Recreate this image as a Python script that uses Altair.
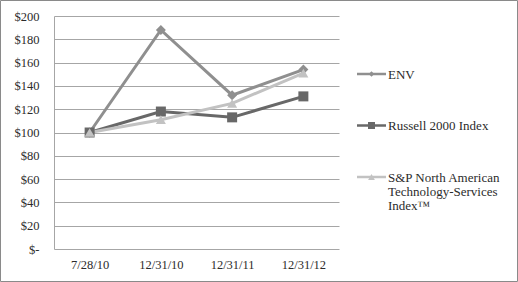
import altair as alt
import pandas as pd

dates = ["7/28/10", "12/31/10", "12/31/11", "12/31/12"]
series_names = ["ENV", "Russell 2000 Index", "S&P North American Technology-Services Index\u2122"]
legend_labels = ["ENV", "Russell 2000 Index", "S&P North American|Technology-Services|Index\u2122"]
env = [100, 188, 132, 154]
russell = [100, 118, 113, 131]
sp = [100, 111, 125, 151]
y_ticks = [0, 20, 40, 60, 80, 100, 120, 140, 160, 180, 200]

colors = ["#8f8f8f", "#686868", "#c2c2c2"]
shapes = ["diamond", "square", "triangle-up"]

rows = []
for name, vals in zip(series_names, [env, russell, sp]):
    for d, v in zip(dates, vals):
        rows.append({"date": d, "value": v, "series": name})
df = pd.DataFrame(rows)
leg_df = pd.DataFrame({"series": series_names, "label": legend_labels})

font = "'Liberation Serif', 'Times New Roman', serif"

x_enc = alt.X("date:N", sort=dates, scale=alt.Scale(domain=dates),
              axis=alt.Axis(title=None, labelAngle=0, ticks=False, domain=False,
                            labelFont=font, labelFontSize=12.5, labelColor="#2b2b2b",
                            labelPadding=9, grid=False))
y_enc = alt.Y("value:Q", scale=alt.Scale(domain=[0, 200], nice=False),
              axis=alt.Axis(title=None, values=y_ticks, ticks=False, domain=True,
                            domainColor="#a6a6a6", gridColor="#a6a6a6", grid=True,
                            labelExpr="datum.value == 0 ? '$-\u00a0\u00a0' : '$' + datum.value",
                            labelFont=font, labelFontSize=12.5, labelColor="#2b2b2b",
                            labelPadding=15))
color_enc = alt.Color("series:N", sort=series_names,
                      scale=alt.Scale(domain=series_names, range=colors), legend=None)

base = alt.Chart(df)
lines = base.mark_line(strokeWidth=3).encode(x=x_enc, y=y_enc, color=color_enc, detail="series:N")
point_layers = []
for name, shp in zip(series_names, shapes):
    point_layers.append(
        base.transform_filter(alt.datum.series == name)
        .mark_point(filled=True, size=100, opacity=1, shape=shp)
        .encode(x=x_enc, y=y_enc, color=color_enc)
    )
data_layer = alt.layer(lines, *point_layers)

# hand-built legend
ly = alt.Y("series:N", sort=series_names,
           scale=alt.Scale(type="point", domain=series_names, range=[58, 161], padding=0),
           axis=None)
lbase = alt.Chart(leg_df)
leg_rule = lbase.mark_rule(strokeWidth=2.5).encode(
    x=alt.value(303), x2=alt.value(332), y=ly, color=color_enc)
leg_pts = []
for name, shp, sz in zip(series_names, shapes, [30, 49, 45]):
    leg_pts.append(
        lbase.transform_filter(alt.datum.series == name)
        .mark_point(filled=True, opacity=1, shape=shp, size=sz)
        .encode(x=alt.value(317.5), y=ly, color=color_enc)
    )
leg_text = lbase.mark_text(align="left", baseline="alphabetic", dy=4.5, lineBreak="|",
                           lineHeight=14, font=font, fontSize=13, color="#2b2b2b").encode(
    x=alt.value(334), y=ly, text="label:N")
legend_layer = alt.layer(leg_rule, *leg_pts, leg_text)

frame = alt.Chart(pd.DataFrame({"a": [0]})).mark_rect(
    filled=False, stroke="#8a8a8a", strokeWidth=1).encode(
    x=alt.value(-53.5), x2=alt.value(463.5), y=alt.value(-15.5), y2=alt.value(265.5))

chart = alt.layer(data_layer, legend_layer, frame).resolve_scale(y="independent").properties(
    width=285, height=233,
    padding={"left": 54, "top": 16, "right": 179, "bottom": 33},
    autosize=alt.AutoSizeParams(type="none"),
    background="white",
).configure_view(stroke=None)

chart.save("out.html", embed_options={"renderer": "svg", "actions": False})
